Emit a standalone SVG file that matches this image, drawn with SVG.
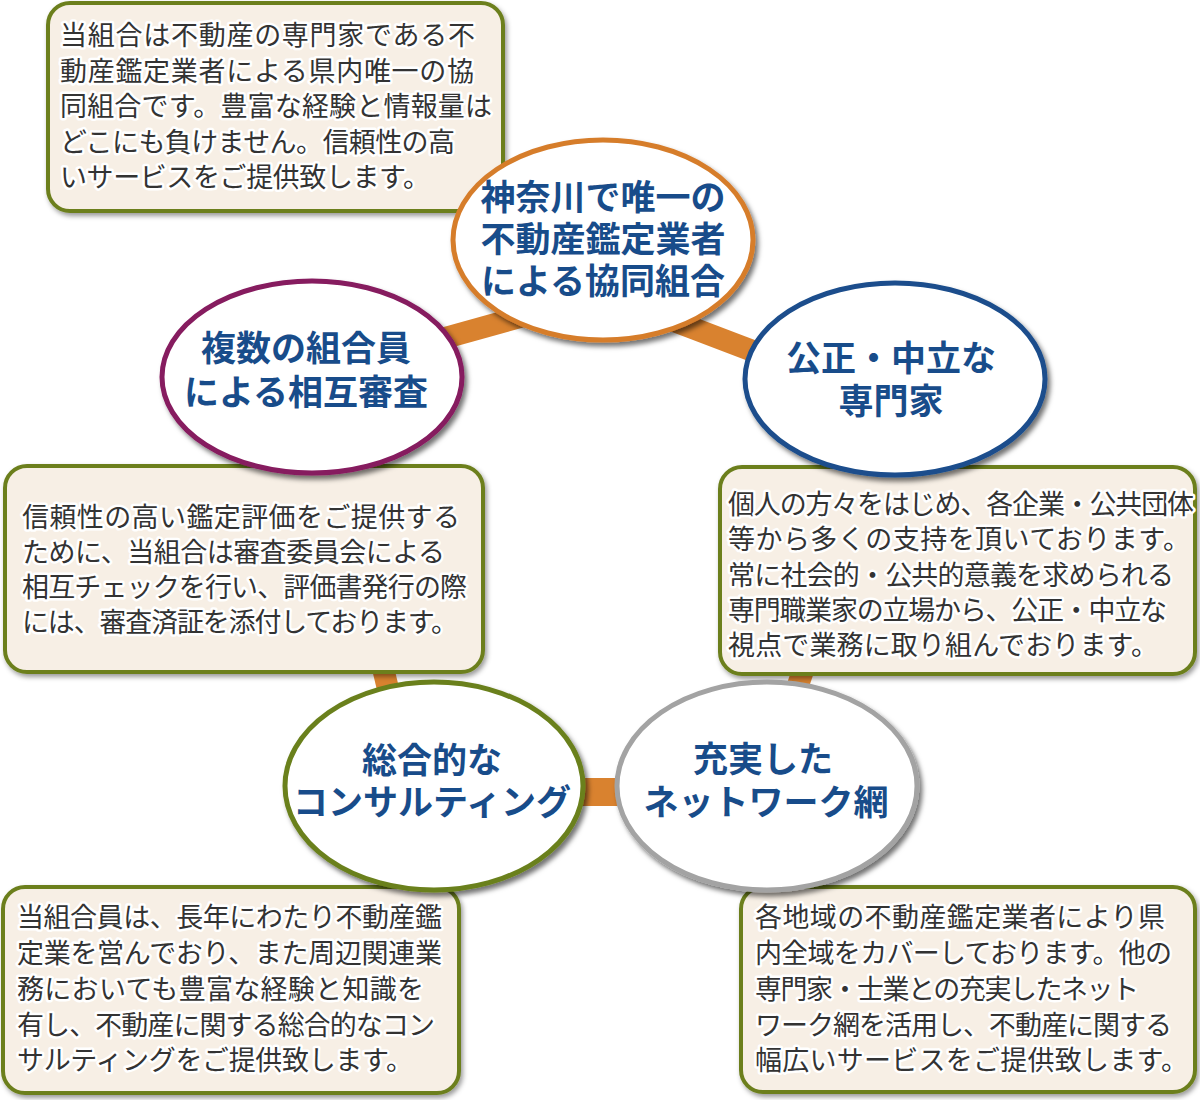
<svg xmlns="http://www.w3.org/2000/svg" width="1200" height="1100" viewBox="0 0 1200 1100">
<defs>
<filter id="sh" x="-10%" y="-10%" width="125%" height="130%">
<feDropShadow dx="3" dy="4" stdDeviation="2.5" flood-color="#000" flood-opacity="0.55"/>
</filter>
<filter id="shb" x="-10%" y="-10%" width="125%" height="130%">
<feDropShadow dx="2" dy="3" stdDeviation="2.5" flood-color="#000" flood-opacity="0.4"/>
</filter>
</defs>
<style>
.box{fill:#f7efe5;stroke:#6c7f1f;stroke-width:4;filter:url(#shb)}
.ell{fill:#fff;stroke-width:5;filter:url(#sh)}
.body{font-family:"Noto Sans CJK JP","Noto Sans",sans-serif;font-size:27px;fill:#333;stroke:#fff;stroke-width:5;stroke-linejoin:round;paint-order:stroke}
.ttl{font-family:"Noto Sans CJK JP","Noto Sans",sans-serif;font-size:35px;font-weight:700;fill:#184c8a;text-anchor:middle}
.con{stroke:#d9822f;stroke-linecap:butt;fill:none}
</style>
<rect width="1200" height="1100" fill="#fff"/>

<g id="connectors">
<line class="con" x1="312" y1="375" x2="603" y2="294" stroke-width="22"/>
<line class="con" x1="603" y1="294" x2="895" y2="405" stroke-width="22"/>
<line class="con" x1="895" y1="405" x2="761" y2="792" stroke-width="22"/>
<line class="con" x1="761" y1="792" x2="413" y2="792" stroke-width="28"/>
<line class="con" x1="413" y1="792" x2="312" y2="375" stroke-width="22"/>
</g>

<g id="box-top">
<rect class="box" x="48" y="3" width="455" height="208" rx="22"/>
<text class="body" x="60" y="45" textLength="415" lengthAdjust="spacing">当組合は不動産の専門家である不</text>
<text class="body" x="60" y="80.5" textLength="414" lengthAdjust="spacing">動産鑑定業者による県内唯一の協</text>
<text class="body" x="60" y="116" textLength="432" lengthAdjust="spacing">同組合です。豊富な経験と情報量は</text>
<text class="body" x="60" y="151.5" textLength="395" lengthAdjust="spacing">どこにも負けません。信頼性の高</text>
<text class="body" x="60" y="187" textLength="370" lengthAdjust="spacing">いサービスをご提供致します。</text>
</g>

<g id="box-left">
<rect class="box" x="5" y="466" width="478" height="206" rx="22"/>
<text class="body" x="22" y="527" textLength="438" lengthAdjust="spacing">信頼性の高い鑑定評価をご提供する</text>
<text class="body" x="22" y="562" textLength="423" lengthAdjust="spacing">ために、当組合は審査委員会による</text>
<text class="body" x="22" y="597" textLength="445" lengthAdjust="spacing">相互チェックを行い、評価書発行の際</text>
<text class="body" x="22" y="632" textLength="436" lengthAdjust="spacing">には、審査済証を添付しております。</text>
</g>

<g id="box-right">
<rect class="box" x="720" y="467" width="475" height="207" rx="22"/>
<text class="body" x="728" y="514" textLength="466" lengthAdjust="spacing">個人の方々をはじめ、各企業・公共団体</text>
<text class="body" x="728" y="549" textLength="462" lengthAdjust="spacing">等から多くの支持を頂いております。</text>
<text class="body" x="728" y="585" textLength="446" lengthAdjust="spacing">常に社会的・公共的意義を求められる</text>
<text class="body" x="728" y="620" textLength="439" lengthAdjust="spacing">専門職業家の立場から、公正・中立な</text>
<text class="body" x="728" y="655" textLength="430" lengthAdjust="spacing">視点で業務に取り組んでおります。</text>
</g>

<g id="box-bottom-left">
<rect class="box" x="3" y="887" width="456" height="206" rx="22"/>
<text class="body" x="17" y="927" textLength="425" lengthAdjust="spacing">当組合員は、長年にわたり不動産鑑</text>
<text class="body" x="17" y="963" textLength="425" lengthAdjust="spacing">定業を営んでおり、また周辺関連業</text>
<text class="body" x="17" y="999" textLength="407" lengthAdjust="spacing">務においても豊富な経験と知識を</text>
<text class="body" x="17" y="1035" textLength="418" lengthAdjust="spacing">有し、不動産に関する総合的なコン</text>
<text class="body" x="17" y="1070" textLength="396" lengthAdjust="spacing">サルティングをご提供致します。</text>
</g>

<g id="box-bottom-right">
<rect class="box" x="741" y="887" width="454" height="205" rx="22"/>
<text class="body" x="755" y="927" textLength="410" lengthAdjust="spacing">各地域の不動産鑑定業者により県</text>
<text class="body" x="755" y="963" textLength="417" lengthAdjust="spacing">内全域をカバーしております。他の</text>
<text class="body" x="755" y="999" textLength="384" lengthAdjust="spacing">専門家・士業との充実したネット</text>
<text class="body" x="755" y="1035" textLength="417" lengthAdjust="spacing">ワーク網を活用し、不動産に関する</text>
<text class="body" x="755" y="1070" textLength="433" lengthAdjust="spacing">幅広いサービスをご提供致します。</text>
</g>

<g id="node-top">
<ellipse class="ell" cx="603" cy="240" rx="150" ry="100" stroke="#d67d2c"/>
<text class="ttl" x="603" y="210">神奈川で唯一の</text>
<text class="ttl" x="603" y="252">不動産鑑定業者</text>
<text class="ttl" x="603" y="294">による協同組合</text>
</g>

<g id="node-left">
<ellipse class="ell" cx="312" cy="377" rx="150" ry="96" stroke="#861a5f"/>
<text class="ttl" x="306" y="361">複数の組合員</text>
<text class="ttl" x="306" y="405">による相互審査</text>
</g>

<g id="node-right">
<ellipse class="ell" cx="895" cy="379" rx="150" ry="96" stroke="#1a4d8c"/>
<text class="ttl" x="891" y="371">公正・中立な</text>
<text class="ttl" x="891" y="414">専門家</text>
</g>

<g id="node-bottom-left">
<ellipse class="ell" cx="434" cy="786" rx="149" ry="104" stroke="#6a801c"/>
<text class="ttl" x="432" y="773">総合的な</text>
<text class="ttl" x="432" y="815">コンサルティング</text>
</g>

<g id="node-bottom-right">
<ellipse class="ell" cx="767" cy="786" rx="150" ry="104" stroke="#a3a3a3"/>
<text class="ttl" x="763" y="772">充実した</text>
<text class="ttl" x="766" y="815">ネットワーク網</text>
</g>
</svg>
